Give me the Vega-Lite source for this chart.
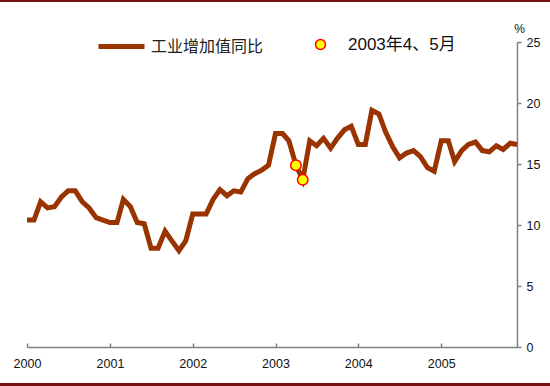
{
  "$schema": "https://vega.github.io/schema/vega-lite/v6.json",
  "width": 550,
  "height": 381,
  "autosize": "none",
  "padding": {"top": 2, "bottom": 3, "left": 0, "right": 0},
  "background": "#7b1010",
  "view": {"fill": "white", "stroke": null},
  "config": {"font": "Liberation Sans, Noto Sans CJK SC", "view": {"stroke": null}},
  "datasets": {
    "main": [
      {"d": "2000-01-01", "v": 10.4}, {"d": "2000-02-01", "v": 10.4}, {"d": "2000-03-01", "v": 11.9}, {"d": "2000-04-01", "v": 11.4},
      {"d": "2000-05-01", "v": 11.5}, {"d": "2000-06-01", "v": 12.3}, {"d": "2000-07-01", "v": 12.8}, {"d": "2000-08-01", "v": 12.8},
      {"d": "2000-09-01", "v": 11.9}, {"d": "2000-10-01", "v": 11.4}, {"d": "2000-11-01", "v": 10.6}, {"d": "2000-12-01", "v": 10.4},
      {"d": "2001-01-01", "v": 10.2}, {"d": "2001-02-01", "v": 10.2}, {"d": "2001-03-01", "v": 12.1}, {"d": "2001-04-01", "v": 11.5},
      {"d": "2001-05-01", "v": 10.2}, {"d": "2001-06-01", "v": 10.1}, {"d": "2001-07-01", "v": 8.1}, {"d": "2001-08-01", "v": 8.1},
      {"d": "2001-09-01", "v": 9.5}, {"d": "2001-10-01", "v": 8.7}, {"d": "2001-11-01", "v": 7.9}, {"d": "2001-12-01", "v": 8.7},
      {"d": "2002-01-01", "v": 10.9}, {"d": "2002-02-01", "v": 10.9}, {"d": "2002-03-01", "v": 10.9}, {"d": "2002-04-01", "v": 12.1},
      {"d": "2002-05-01", "v": 12.9}, {"d": "2002-06-01", "v": 12.4}, {"d": "2002-07-01", "v": 12.8}, {"d": "2002-08-01", "v": 12.7},
      {"d": "2002-09-01", "v": 13.8}, {"d": "2002-10-01", "v": 14.2}, {"d": "2002-11-01", "v": 14.5}, {"d": "2002-12-01", "v": 14.9},
      {"d": "2003-01-01", "v": 17.5}, {"d": "2003-02-01", "v": 17.5}, {"d": "2003-03-01", "v": 16.9}, {"d": "2003-04-01", "v": 14.9},
      {"d": "2003-05-01", "v": 13.7}, {"d": "2003-06-01", "v": 16.9}, {"d": "2003-07-01", "v": 16.5}, {"d": "2003-08-01", "v": 17.1},
      {"d": "2003-09-01", "v": 16.3}, {"d": "2003-10-01", "v": 17.1}, {"d": "2003-11-01", "v": 17.8}, {"d": "2003-12-01", "v": 18.1},
      {"d": "2004-01-01", "v": 16.6}, {"d": "2004-02-01", "v": 16.6}, {"d": "2004-03-01", "v": 19.4}, {"d": "2004-04-01", "v": 19.1},
      {"d": "2004-05-01", "v": 17.6}, {"d": "2004-06-01", "v": 16.4}, {"d": "2004-07-01", "v": 15.5}, {"d": "2004-08-01", "v": 15.9},
      {"d": "2004-09-01", "v": 16.1}, {"d": "2004-10-01", "v": 15.6}, {"d": "2004-11-01", "v": 14.7}, {"d": "2004-12-01", "v": 14.4},
      {"d": "2005-01-01", "v": 16.9}, {"d": "2005-02-01", "v": 16.9}, {"d": "2005-03-01", "v": 15.2}, {"d": "2005-04-01", "v": 16.1},
      {"d": "2005-05-01", "v": 16.6}, {"d": "2005-06-01", "v": 16.8}, {"d": "2005-07-01", "v": 16.1}, {"d": "2005-08-01", "v": 16.0},
      {"d": "2005-09-01", "v": 16.5}, {"d": "2005-10-01", "v": 16.2}, {"d": "2005-11-01", "v": 16.7}, {"d": "2005-12-01", "v": 16.6}
    ],
    "hl": [
      {"d": "2003-04-01", "v": 14.9}, {"d": "2003-05-01", "v": 13.7}
    ]
  },
  "layer": [
    {
      "data": {"name": "main"},
      "mark": {"type": "line", "strokeWidth": 5},
      "encoding": {
        "x": {
          "field": "d", "type": "temporal",
          "scale": {"type": "utc", "domain": [{"year": 2000, "month": 1, "date": 1, "utc": true}, {"year": 2005, "month": 12, "date": 1, "utc": true}], "range": [27, 517]},
          "axis": {
            "orient": "bottom", "offset": -36, "title": null, "grid": false,
            "values": [{"year": 2000, "month": 1, "date": 1, "utc": true}, {"year": 2001, "month": 1, "date": 1, "utc": true}, {"year": 2002, "month": 1, "date": 1, "utc": true}, {"year": 2003, "month": 1, "date": 1, "utc": true}, {"year": 2004, "month": 1, "date": 1, "utc": true}, {"year": 2005, "month": 1, "date": 1, "utc": true}],
            "format": "%Y", "formatType": "utc",
            "domainColor": "#808080", "domainWidth": 1.5, "tickColor": "#808080", "tickWidth": 1.5, "tickSize": -4,
            "labelFontSize": 12.5, "labelColor": "#111", "labelPadding": 14, "labelFlush": false, "labelOverlap": false
          }
        },
        "y": {
          "field": "v", "type": "quantitative",
          "scale": {"domain": [0, 25], "range": [345, 40], "nice": false, "zero": false},
          "axis": {
            "orient": "right", "offset": -33, "grid": false, "values": [0, 5, 10, 15, 20, 25],
            "title": "%", "titleAngle": 0, "titleX": 2, "titleY": 26, "titleAlign": "center", "titleBaseline": "middle",
            "titleFontSize": 12, "titleFontWeight": "normal", "titleColor": "#111",
            "domainColor": "#808080", "domainWidth": 1.5, "tickColor": "#808080", "tickWidth": 1.5, "tickSize": 4,
            "labelFontSize": 12.5, "labelColor": "#111", "labelPadding": 5
          }
        },
        "stroke": {
          "datum": "工业增加值同比",
          "scale": {"range": ["#993300"]},
          "legend": {
            "orient": "none", "legendX": 96, "legendY": 19, "title": null, "padding": 0,
            "symbolType": "stroke", "symbolSize": 2116, "symbolStrokeWidth": 5,
            "labelFont": "Noto Sans CJK SC", "labelFontSize": 16, "labelColor": "#222", "labelOffset": 4, "labelLimit": 300
          }
        }
      }
    },
    {
      "data": {"name": "hl"},
      "mark": {"type": "point", "filled": true, "size": 110, "stroke": "#ff0000", "strokeWidth": 1.5, "opacity": 1},
      "encoding": {
        "x": {"field": "d", "type": "temporal"},
        "y": {"field": "v", "type": "quantitative"},
        "fill": {
          "datum": "2003年4、5月",
          "scale": {"range": ["#ffff00"]},
          "legend": {
            "orient": "none", "legendX": 312, "legendY": 34, "title": null, "padding": 0,
            "symbolType": "circle", "symbolSize": 100, "symbolStrokeColor": "#ff0000", "symbolStrokeWidth": 1.5, "symbolOpacity": 1,
            "labelFontSize": 17, "labelColor": "#111", "labelOffset": 19, "labelLimit": 300
          }
        }
      }
    }
  ]
}
